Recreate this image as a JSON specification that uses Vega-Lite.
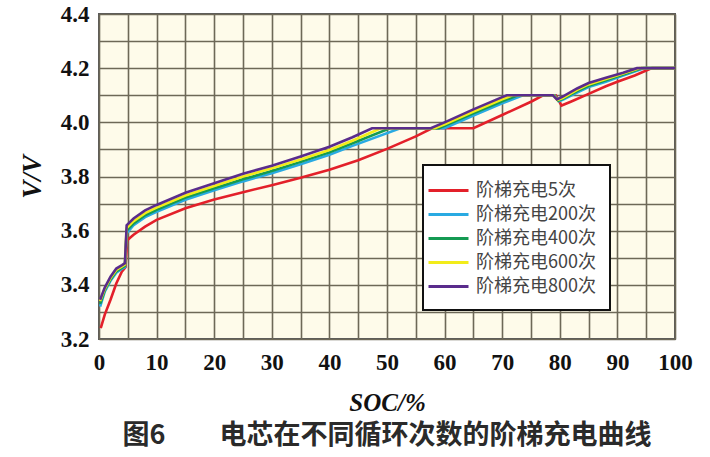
{
  "$schema": "https://vega.github.io/schema/vega-lite/v6.json",
  "width": 576,
  "height": 325,
  "autosize": {"type": "none"},
  "padding": {"left": 99, "top": 14, "right": 35, "bottom": 118},
  "background": "#ffffff",
  "config": {
    "font": "Liberation Serif",
    "view": {"fill": "#fefbea", "stroke": "#5a5a5a", "strokeWidth": 2},
    "legend": {"strokeWidth": 2}
  },
  "title": {
    "text": "图6　　电芯在不同循环次数的阶梯充电曲线",
    "orient": "bottom",
    "anchor": "middle",
    "font": "Noto Sans CJK SC",
    "fontSize": 27,
    "fontWeight": "bold",
    "color": "#2a2a2a",
    "offset": 8
  },
  "data": {
    "values": [
      {"s": "阶梯充电5次", "soc": 0.3, "v": 3.24},
      {"s": "阶梯充电5次", "soc": 1, "v": 3.29},
      {"s": "阶梯充电5次", "soc": 2, "v": 3.345},
      {"s": "阶梯充电5次", "soc": 3, "v": 3.405},
      {"s": "阶梯充电5次", "soc": 4, "v": 3.45},
      {"s": "阶梯充电5次", "soc": 4.6, "v": 3.465},
      {"s": "阶梯充电5次", "soc": 4.9, "v": 3.565},
      {"s": "阶梯充电5次", "soc": 6, "v": 3.585},
      {"s": "阶梯充电5次", "soc": 8, "v": 3.615},
      {"s": "阶梯充电5次", "soc": 10, "v": 3.64},
      {"s": "阶梯充电5次", "soc": 15, "v": 3.683},
      {"s": "阶梯充电5次", "soc": 20, "v": 3.715},
      {"s": "阶梯充电5次", "soc": 25, "v": 3.742},
      {"s": "阶梯充电5次", "soc": 30, "v": 3.768},
      {"s": "阶梯充电5次", "soc": 35, "v": 3.795},
      {"s": "阶梯充电5次", "soc": 40, "v": 3.825},
      {"s": "阶梯充电5次", "soc": 45, "v": 3.86},
      {"s": "阶梯充电5次", "soc": 50, "v": 3.902},
      {"s": "阶梯充电5次", "soc": 55, "v": 3.948},
      {"s": "阶梯充电5次", "soc": 57.8, "v": 3.978},
      {"s": "阶梯充电5次", "soc": 65, "v": 3.978},
      {"s": "阶梯充电5次", "soc": 70, "v": 4.027},
      {"s": "阶梯充电5次", "soc": 75, "v": 4.076},
      {"s": "阶梯充电5次", "soc": 77.1, "v": 4.1},
      {"s": "阶梯充电5次", "soc": 79.3, "v": 4.1},
      {"s": "阶梯充电5次", "soc": 80.3, "v": 4.062},
      {"s": "阶梯充电5次", "soc": 82, "v": 4.077},
      {"s": "阶梯充电5次", "soc": 85, "v": 4.105},
      {"s": "阶梯充电5次", "soc": 88, "v": 4.133},
      {"s": "阶梯充电5次", "soc": 90, "v": 4.15},
      {"s": "阶梯充电5次", "soc": 93, "v": 4.173},
      {"s": "阶梯充电5次", "soc": 96, "v": 4.2},
      {"s": "阶梯充电5次", "soc": 100, "v": 4.2},

      {"s": "阶梯充电200次", "soc": 0.2, "v": 3.32},
      {"s": "阶梯充电200次", "soc": 1, "v": 3.375},
      {"s": "阶梯充电200次", "soc": 2, "v": 3.415},
      {"s": "阶梯充电200次", "soc": 3, "v": 3.445},
      {"s": "阶梯充电200次", "soc": 4, "v": 3.46},
      {"s": "阶梯充电200次", "soc": 4.5, "v": 3.465},
      {"s": "阶梯充电200次", "soc": 4.8, "v": 3.59},
      {"s": "阶梯充电200次", "soc": 6, "v": 3.62},
      {"s": "阶梯充电200次", "soc": 8, "v": 3.65},
      {"s": "阶梯充电200次", "soc": 10, "v": 3.67},
      {"s": "阶梯充电200次", "soc": 15, "v": 3.714},
      {"s": "阶梯充电200次", "soc": 20, "v": 3.749},
      {"s": "阶梯充电200次", "soc": 25, "v": 3.782},
      {"s": "阶梯充电200次", "soc": 30, "v": 3.812},
      {"s": "阶梯充电200次", "soc": 35, "v": 3.845},
      {"s": "阶梯充电200次", "soc": 40, "v": 3.88},
      {"s": "阶梯充电200次", "soc": 44, "v": 3.913},
      {"s": "阶梯充电200次", "soc": 52.3, "v": 3.978},
      {"s": "阶梯充电200次", "soc": 60, "v": 3.978},
      {"s": "阶梯充电200次", "soc": 65, "v": 4.025},
      {"s": "阶梯充电200次", "soc": 70, "v": 4.07},
      {"s": "阶梯充电200次", "soc": 73.6, "v": 4.1},
      {"s": "阶梯充电200次", "soc": 79.1, "v": 4.1},
      {"s": "阶梯充电200次", "soc": 79.8, "v": 4.078},
      {"s": "阶梯充电200次", "soc": 80.5, "v": 4.083},
      {"s": "阶梯充电200次", "soc": 83, "v": 4.11},
      {"s": "阶梯充电200次", "soc": 85, "v": 4.13},
      {"s": "阶梯充电200次", "soc": 88, "v": 4.15},
      {"s": "阶梯充电200次", "soc": 91, "v": 4.173},
      {"s": "阶梯充电200次", "soc": 94.6, "v": 4.2},
      {"s": "阶梯充电200次", "soc": 100, "v": 4.2},

      {"s": "阶梯充电400次", "soc": 0.2, "v": 3.33},
      {"s": "阶梯充电400次", "soc": 1, "v": 3.38},
      {"s": "阶梯充电400次", "soc": 2, "v": 3.42},
      {"s": "阶梯充电400次", "soc": 3, "v": 3.45},
      {"s": "阶梯充电400次", "soc": 4, "v": 3.463},
      {"s": "阶梯充电400次", "soc": 4.5, "v": 3.47},
      {"s": "阶梯充电400次", "soc": 4.8, "v": 3.6},
      {"s": "阶梯充电400次", "soc": 6, "v": 3.627},
      {"s": "阶梯充电400次", "soc": 8, "v": 3.657},
      {"s": "阶梯充电400次", "soc": 10, "v": 3.677},
      {"s": "阶梯充电400次", "soc": 15, "v": 3.722},
      {"s": "阶梯充电400次", "soc": 20, "v": 3.757},
      {"s": "阶梯充电400次", "soc": 25, "v": 3.79},
      {"s": "阶梯充电400次", "soc": 30, "v": 3.82},
      {"s": "阶梯充电400次", "soc": 35, "v": 3.854},
      {"s": "阶梯充电400次", "soc": 40, "v": 3.889},
      {"s": "阶梯充电400次", "soc": 44, "v": 3.923},
      {"s": "阶梯充电400次", "soc": 50.5, "v": 3.978},
      {"s": "阶梯充电400次", "soc": 59, "v": 3.978},
      {"s": "阶梯充电400次", "soc": 60, "v": 3.987},
      {"s": "阶梯充电400次", "soc": 65, "v": 4.033},
      {"s": "阶梯充电400次", "soc": 70, "v": 4.078},
      {"s": "阶梯充电400次", "soc": 72.7, "v": 4.1},
      {"s": "阶梯充电400次", "soc": 79, "v": 4.1},
      {"s": "阶梯充电400次", "soc": 79.7, "v": 4.08},
      {"s": "阶梯充电400次", "soc": 80.5, "v": 4.087},
      {"s": "阶梯充电400次", "soc": 83, "v": 4.115},
      {"s": "阶梯充电400次", "soc": 85, "v": 4.135},
      {"s": "阶梯充电400次", "soc": 88, "v": 4.155},
      {"s": "阶梯充电400次", "soc": 91, "v": 4.177},
      {"s": "阶梯充电400次", "soc": 94.2, "v": 4.2},
      {"s": "阶梯充电400次", "soc": 100, "v": 4.2},

      {"s": "阶梯充电600次", "soc": 0.2, "v": 3.34},
      {"s": "阶梯充电600次", "soc": 1, "v": 3.385},
      {"s": "阶梯充电600次", "soc": 2, "v": 3.425},
      {"s": "阶梯充电600次", "soc": 3, "v": 3.455},
      {"s": "阶梯充电600次", "soc": 4, "v": 3.468},
      {"s": "阶梯充电600次", "soc": 4.5, "v": 3.475},
      {"s": "阶梯充电600次", "soc": 4.8, "v": 3.61},
      {"s": "阶梯充电600次", "soc": 6, "v": 3.635},
      {"s": "阶梯充电600次", "soc": 8, "v": 3.665},
      {"s": "阶梯充电600次", "soc": 10, "v": 3.685},
      {"s": "阶梯充电600次", "soc": 15, "v": 3.73},
      {"s": "阶梯充电600次", "soc": 20, "v": 3.765},
      {"s": "阶梯充电600次", "soc": 25, "v": 3.8},
      {"s": "阶梯充电600次", "soc": 30, "v": 3.83},
      {"s": "阶梯充电600次", "soc": 35, "v": 3.863},
      {"s": "阶梯充电600次", "soc": 40, "v": 3.898},
      {"s": "阶梯充电600次", "soc": 44, "v": 3.932},
      {"s": "阶梯充电600次", "soc": 48.9, "v": 3.978},
      {"s": "阶梯充电600次", "soc": 58.3, "v": 3.978},
      {"s": "阶梯充电600次", "soc": 60, "v": 3.993},
      {"s": "阶梯充电600次", "soc": 65, "v": 4.04},
      {"s": "阶梯充电600次", "soc": 70, "v": 4.085},
      {"s": "阶梯充电600次", "soc": 71.8, "v": 4.1},
      {"s": "阶梯充电600次", "soc": 78.9, "v": 4.1},
      {"s": "阶梯充电600次", "soc": 79.6, "v": 4.083},
      {"s": "阶梯充电600次", "soc": 80.5, "v": 4.09},
      {"s": "阶梯充电600次", "soc": 83, "v": 4.12},
      {"s": "阶梯充电600次", "soc": 85, "v": 4.14},
      {"s": "阶梯充电600次", "soc": 88, "v": 4.16},
      {"s": "阶梯充电600次", "soc": 91, "v": 4.18},
      {"s": "阶梯充电600次", "soc": 93.8, "v": 4.2},
      {"s": "阶梯充电600次", "soc": 100, "v": 4.2},

      {"s": "阶梯充电800次", "soc": 0.2, "v": 3.345},
      {"s": "阶梯充电800次", "soc": 1, "v": 3.39},
      {"s": "阶梯充电800次", "soc": 2, "v": 3.43},
      {"s": "阶梯充电800次", "soc": 3, "v": 3.46},
      {"s": "阶梯充电800次", "soc": 4, "v": 3.473},
      {"s": "阶梯充电800次", "soc": 4.5, "v": 3.48},
      {"s": "阶梯充电800次", "soc": 4.8, "v": 3.62},
      {"s": "阶梯充电800次", "soc": 6, "v": 3.645},
      {"s": "阶梯充电800次", "soc": 8, "v": 3.675},
      {"s": "阶梯充电800次", "soc": 10, "v": 3.695},
      {"s": "阶梯充电800次", "soc": 15, "v": 3.74},
      {"s": "阶梯充电800次", "soc": 20, "v": 3.775},
      {"s": "阶梯充电800次", "soc": 25, "v": 3.81},
      {"s": "阶梯充电800次", "soc": 30, "v": 3.84},
      {"s": "阶梯充电800次", "soc": 35, "v": 3.874},
      {"s": "阶梯充电800次", "soc": 40, "v": 3.91},
      {"s": "阶梯充电800次", "soc": 44, "v": 3.945},
      {"s": "阶梯充电800次", "soc": 47.4, "v": 3.978},
      {"s": "阶梯充电800次", "soc": 57.6, "v": 3.978},
      {"s": "阶梯充电800次", "soc": 60, "v": 4.0},
      {"s": "阶梯充电800次", "soc": 65, "v": 4.048},
      {"s": "阶梯充电800次", "soc": 70, "v": 4.093},
      {"s": "阶梯充电800次", "soc": 70.8, "v": 4.1},
      {"s": "阶梯充电800次", "soc": 78.8, "v": 4.1},
      {"s": "阶梯充电800次", "soc": 79.5, "v": 4.085},
      {"s": "阶梯充电800次", "soc": 80.5, "v": 4.095},
      {"s": "阶梯充电800次", "soc": 83, "v": 4.125},
      {"s": "阶梯充电800次", "soc": 85, "v": 4.145},
      {"s": "阶梯充电800次", "soc": 88, "v": 4.165},
      {"s": "阶梯充电800次", "soc": 91, "v": 4.183},
      {"s": "阶梯充电800次", "soc": 93.4, "v": 4.2},
      {"s": "阶梯充电800次", "soc": 100, "v": 4.2}
    ]
  },
  "mark": {"type": "line", "strokeWidth": 2.6, "clip": true},
  "encoding": {
    "x": {
      "field": "soc",
      "type": "quantitative",
      "scale": {"domain": [0, 100], "nice": false},
      "axis": {
        "values": [0, 5, 10, 15, 20, 25, 30, 35, 40, 45, 50, 55, 60, 65, 70, 75, 80, 85, 90, 95, 100],
        "labelExpr": "datum.value % 10 === 0 ? datum.label : ''",
        "title": "SOC/%",
        "titleFont": "Liberation Serif",
        "titleFontStyle": "italic",
        "titleFontWeight": "bold",
        "titleFontSize": 25,
        "titleColor": "#111",
        "titlePadding": 16,
        "labelFont": "Liberation Serif",
        "labelFontWeight": "bold",
        "labelFontSize": 23,
        "labelColor": "#111",
        "labelPadding": 12,
        "labelFlush": false,
        "labelOverlap": false,
        "ticks": false,
        "domain": false,
        "grid": true,
        "gridColor": "#6d6857",
        "gridWidth": 1.6,
        "gridOpacity": 1
      }
    },
    "y": {
      "field": "v",
      "type": "quantitative",
      "scale": {"domain": [3.2, 4.4], "nice": false, "zero": false},
      "axis": {
        "values": [3.2, 3.3, 3.4, 3.5, 3.6, 3.7, 3.8, 3.9, 4.0, 4.1, 4.2, 4.3, 4.4],
        "labelExpr": "round(datum.value * 10) % 2 === 0 ? format(datum.value, '.1f') : ''",
        "title": "V/V",
        "titleFont": "Liberation Serif",
        "titleFontStyle": "italic",
        "titleFontWeight": "bold",
        "titleFontSize": 27,
        "titleColor": "#111",
        "titlePadding": 14,
        "labelFont": "Liberation Serif",
        "labelFontWeight": "bold",
        "labelFontSize": 23,
        "labelColor": "#111",
        "labelPadding": 10,
        "labelFlush": false,
        "labelOverlap": false,
        "ticks": false,
        "domain": false,
        "grid": true,
        "gridColor": "#6d6857",
        "gridWidth": 1.6,
        "gridOpacity": 1
      }
    },
    "color": {
      "field": "s",
      "type": "nominal",
      "scale": {
        "domain": ["阶梯充电5次", "阶梯充电200次", "阶梯充电400次", "阶梯充电600次", "阶梯充电800次"],
        "range": ["#e3202a", "#29aae2", "#149a52", "#f2ec1a", "#5a2c8c"]
      },
      "legend": {
        "orient": "none",
        "legendX": 324,
        "legendY": 151,
        "title": null,
        "symbolType": "M-2,0H2",
        "symbolSize": 400,
        "symbolStrokeWidth": 3,
        "labelFont": "Noto Sans CJK SC",
        "labelFontSize": 18,
        "labelColor": "#444",
        "labelOffset": 16,
        "rowPadding": 3,
        "padding": 14,
        "fillColor": "#ffffff",
        "strokeColor": "#111111"
      }
    },
    "order": {"field": "soc", "type": "quantitative"}
  }
}
